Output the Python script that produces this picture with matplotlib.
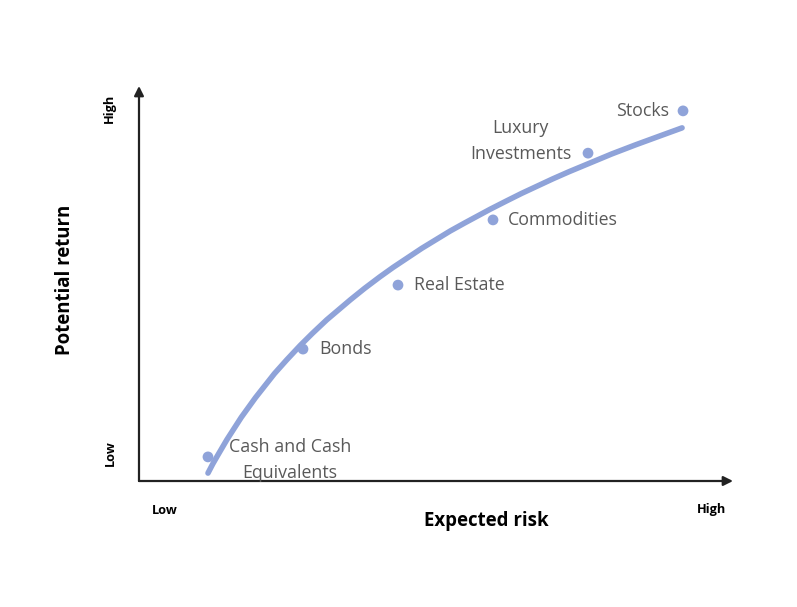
import matplotlib.pyplot as plt

# asset classes on the risk/return chart
assets = ["Cash and Cash\nEquivalents", "Bonds", "Real Estate", "Commodities",
          "Luxury\nInvestments", "Stocks"]
risk = [1, 2, 3, 4, 5, 6]
ret = [0.61, 3.34, 4.96, 6.61, 8.30, 9.37]

# risk/return curve
curve_risk = [1.0, 1.05, 1.1, 1.2, 1.35, 1.5, 1.7, 1.83, 1.97, 2.1, 2.25, 2.5,
              2.65, 2.81, 2.95, 3.1, 3.25, 3.4, 3.55, 3.7, 3.97, 4.15, 4.3,
              4.63, 4.8, 4.99, 5.25, 5.5, 5.75, 5.99]
curve_ret = [0.20, 0.43, 0.64, 1.05, 1.61, 2.11, 2.72, 3.07, 3.43, 3.74, 4.08, 4.59,
             4.88, 5.17, 5.41, 5.65, 5.89, 6.11, 6.33, 6.53, 6.88, 7.10, 7.28,
             7.65, 7.83, 8.02, 8.28, 8.51, 8.73, 8.94]

# label offsets (points) and alignment
label_pos = [((59, -2.2), 'center'), ((12, 0), 'left'), ((11.5, 0), 'left'),
             ((11, 0), 'left'), ((-12, 8.6), 'right'), ((-10, 0), 'right')]

blue = '#8fa3d9'
grey = '#595959'
plt.rcParams['font.family'] = ['Open Sans', 'DejaVu Sans']

fig = plt.figure(figsize=(7.97, 6.07), dpi=100)
ax = fig.add_axes([139 / 797, 126 / 607, 594 / 797, 395 / 607])
ax.set_xlim(0.274, 6.526)
ax.set_ylim(0, 10)
for s in ax.spines.values():
    s.set_visible(False)
ax.set_xticks([])
ax.set_yticks([])

# axes with arrow heads
ax.annotate('', xy=(0, 1.0), xytext=(0, 0), xycoords='axes fraction',
            arrowprops=dict(arrowstyle='-|>', color='#222222', lw=1.6,
                            mutation_scale=14, shrinkA=0, shrinkB=0))
ax.annotate('', xy=(1.0, 0), xytext=(0, 0), xycoords='axes fraction',
            arrowprops=dict(arrowstyle='-|>', color='#222222', lw=1.6,
                            mutation_scale=14, shrinkA=0, shrinkB=0))

ax.plot(curve_risk, curve_ret, color=blue, lw=4, solid_capstyle='round',
        solid_joinstyle='round', zorder=2)
ax.scatter(risk, ret, s=60, color=blue, zorder=3, edgecolors='none')

for name, x, y, (off, ha) in zip(assets, risk, ret, label_pos):
    ax.annotate(name, xy=(x, y), xytext=off, textcoords='offset points',
                ha=ha, va='center', multialignment='center',
                fontsize=12.8, color=grey, linespacing=1.6)

fig.text(65 / 797, 1 - 280 / 607, "Potential return", rotation=90, ha='center',
         va='center', fontsize=13.4, fontweight='bold')
fig.text(486 / 797, 1 - 521 / 607, "Expected risk", ha='center', va='center',
         fontsize=13.4, fontweight='bold')
fig.text(109 / 797, 1 - 108 / 607, "High", rotation=90, ha='center', va='center',
         fontsize=9.2, fontweight='bold')
fig.text(110 / 797, 1 - 453 / 607, "Low", rotation=90, ha='center', va='center',
         fontsize=9.2, fontweight='bold')
fig.text(165 / 797, 1 - 510 / 607, "Low", ha='center', va='center',
         fontsize=9.2, fontweight='bold')
fig.text(712 / 797, 1 - 510 / 607, "High", ha='center', va='center',
         fontsize=9.2, fontweight='bold')

fig.savefig('out.png', dpi=100)
